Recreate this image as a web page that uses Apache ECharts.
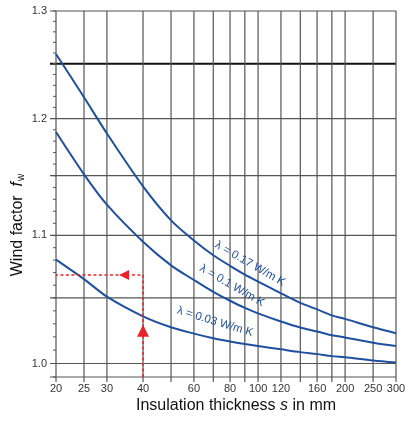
<!DOCTYPE html>
<html><head><meta charset="utf-8">
<script src="https://cdn.jsdelivr.net/npm/echarts@6/dist/echarts.min.js"></script>
<style>html,body{margin:0;padding:0;background:#fff}#c{width:415px;height:425px}</style>
</head><body><div id="c"></div>
<script>
// ---- data ----
const thickness = [20, 25, 30, 40, 50, 60, 70, 80, 90, 100, 120, 140, 160, 180, 200, 250, 300];
const fw017 = [1.259, 1.2191, 1.1867, 1.1409, 1.1124, 1.0959, 1.0839, 1.0754, 1.0684, 1.0629, 1.0536, 1.0461, 1.0411, 1.0365, 1.0338, 1.0273, 1.0228];
const fw010 = [1.188, 1.1512, 1.1255, 1.0949, 1.0758, 1.0641, 1.0547, 1.0478, 1.0422, 1.038, 1.0317, 1.0271, 1.0241, 1.0212, 1.0196, 1.0156, 1.0131];
const fw003 = [1.0804, 1.0648, 1.051, 1.0357, 1.0273, 1.0225, 1.019, 1.0165, 1.0146, 1.0131, 1.0106, 1.0085, 1.007, 1.0055, 1.0046, 1.0022, 1.0007];
const curveLabels = ['λ = 0.17 W/m K', 'λ = 0.1 W/m K', 'λ = 0.03 W/m K'];
const xGridValues = [20, 25, 30, 40, 50, 60, 70, 80, 90, 100, 120, 140, 160, 180, 200, 250, 300];
const xTickLabels = [20, 25, 30, 40, 60, 80, 100, 120, 160, 200, 250, 300];
const yGridValues = [0.99, 1.0, 1.05, 1.1, 1.15, 1.2, 1.25, 1.3];
const yMinorTicks = [0.99, 1.00, 1.01, 1.02, 1.03, 1.04, 1.05, 1.06, 1.07, 1.08, 1.09, 1.10, 1.11, 1.12, 1.13, 1.14, 1.15, 1.16, 1.17, 1.18, 1.19, 1.20, 1.21, 1.22, 1.23, 1.24, 1.25, 1.26, 1.27, 1.28, 1.29, 1.30];
const yTickLabels = [1.0, 1.1, 1.2, 1.3];
const exampleS = 40;
const exampleFw = 1.068;
const X_MIN = 20, X_MAX = 300, Y_MIN = 0.99, Y_MAX = 1.3;

// ---- styles ----
const FONT = '"Liberation Sans", Arial, Helvetica, sans-serif';
const BLUE = '#1f4f9f';
const RED = '#e8232a';
const GRID = '#555';

const chart = echarts.init(document.getElementById('c'), null, {renderer: 'canvas'});

function zip(xs, ys) { return xs.map((x, i) => [x, ys[i]]); }

const hGrid = {
  type: 'custom', z: 1, silent: true, clip: false,
  data: yGridValues.map(v => [X_MIN, v]),
  renderItem(params, api) {
    const v = api.value(1);
    const a = api.coord([X_MIN, v]), b = api.coord([X_MAX, v]);
    const strong = Math.abs(v - 1.25) < 1e-9;
    return {type: 'line', shape: {x1: a[0] - 6, y1: a[1], x2: b[0], y2: b[1]},
      style: {stroke: strong ? '#111' : GRID, lineWidth: strong ? 2 : 1.2}};
  }
};
const yMinor = {
  type: 'custom', z: 1, silent: true, clip: false,
  data: yMinorTicks.map(v => [X_MIN, v]),
  renderItem(params, api) {
    const a = api.coord([X_MIN, api.value(1)]);
    return {type: 'line', shape: {x1: a[0] - 3, y1: a[1], x2: a[0], y2: a[1]},
      style: {stroke: GRID, lineWidth: 1}};
  }
};
const vGrid = {
  type: 'custom', z: 1, silent: true, clip: false,
  data: xGridValues.map(v => [v, Y_MIN]),
  renderItem(params, api) {
    const v = api.value(0);
    const a = api.coord([v, Y_MIN]), b = api.coord([v, Y_MAX]);
    return {type: 'line', shape: {x1: a[0], y1: a[1] + 5, x2: b[0], y2: b[1]},
      style: {stroke: GRID, lineWidth: 1.2}};
  }
};
const xLabels = {
  type: 'custom', z: 2, silent: true, clip: false,
  data: xTickLabels.map(v => [v, Y_MIN]),
  renderItem(params, api) {
    const v = api.value(0);
    const a = api.coord([v, Y_MIN]);
    return {type: 'text', x: a[0], y: a[1] + 12,
      style: {text: String(v), textAlign: 'center', textVerticalAlign: 'middle',
        font: '11px ' + FONT, fill: '#333'}};
  }
};
const yLabels = {
  type: 'custom', z: 2, silent: true, clip: false,
  data: yTickLabels.map(v => [X_MIN, v]),
  renderItem(params, api) {
    const v = api.value(1);
    const a = api.coord([X_MIN, v]);
    return {type: 'text', x: a[0] - 9, y: a[1],
      style: {text: v.toFixed(1), textAlign: 'right', textVerticalAlign: 'middle',
        font: '11px ' + FONT, fill: '#333'}};
  }
};

function curve(name, values, labelText, labelCoord, rot) {
  return {
    type: 'line', name, z: 3, silent: true, smooth: 0.3,
    data: zip(thickness, values), symbol: 'none',
    lineStyle: {color: BLUE, width: 2},
    markPoint: {
      silent: true, symbol: 'circle', symbolSize: 0,
      label: {show: true, position: 'inside', formatter: labelText, rotate: rot,
        color: BLUE, fontSize: 11.5, fontFamily: FONT},
      data: [{coord: labelCoord}]
    }
  };
}

const option = {
  animation: false,
  backgroundColor: '#fff',
  grid: {left: 56, right: 19, top: 11, bottom: 48},
  xAxis: {
    type: 'log', logBase: 10, min: X_MIN, max: X_MAX,
    axisLine: {show: false}, axisTick: {show: false}, axisLabel: {show: false}, splitLine: {show: false},
    name: 'Insulation thickness {i|s} in mm', nameLocation: 'middle', nameGap: 21,
    nameTextStyle: {fontSize: 16, fontFamily: FONT, color: '#111', padding: [0, 0, 0, 20],
      rich: {i: {fontSize: 16, fontFamily: FONT, fontStyle: 'italic', color: '#111'}}}
  },
  yAxis: {
    type: 'log', logBase: 10, min: Y_MIN, max: Y_MAX,
    axisLine: {show: false}, axisTick: {show: false}, axisLabel: {show: false}, splitLine: {show: false}
  },
  graphic: [{
    type: 'text', x: 18, y: 225, rotation: Math.PI / 2, silent: true,
    style: {text: 'Wind factor  {i|f}{s|w}', font: '16px ' + FONT, fill: '#111',
      textAlign: 'center', textVerticalAlign: 'middle',
      rich: {i: {fontSize: 16, fontFamily: FONT, fontStyle: 'italic', fill: '#111', color: '#111'},
             s: {fontSize: 10, fontFamily: FONT, fill: '#111', color: '#111', verticalAlign: 'bottom', padding: [7, 0, 0, 1]}}}
  }],
  series: [
    hGrid, yMinor, vGrid, xLabels, yLabels,
    curve('0.17', fw017, curveLabels[0], [93.8, 1.0771], -30),
    curve('0.1', fw010, curveLabels[1], [81.3, 1.0596], -30),
    curve('0.03', fw003, curveLabels[2], [71, 1.0316], -17),
    {
      type: 'line', z: 4, silent: true, symbol: 'none',
      data: [[exampleS, Y_MIN], [exampleS, exampleFw], [X_MIN, exampleFw]],
      lineStyle: {color: RED, width: 1.5, type: [3, 2.5]},
      markPoint: {
        silent: true, symbol: 'triangle', itemStyle: {color: RED}, label: {show: false},
        data: [
          {coord: [exampleS, 1.0247], symbolSize: [12, 12], symbolRotate: 0},
          {coord: [34.37, exampleFw], symbolSize: [10, 10], symbolRotate: 90}
        ]
      }
    }
  ]
};
chart.setOption(option);
</script></body></html>
